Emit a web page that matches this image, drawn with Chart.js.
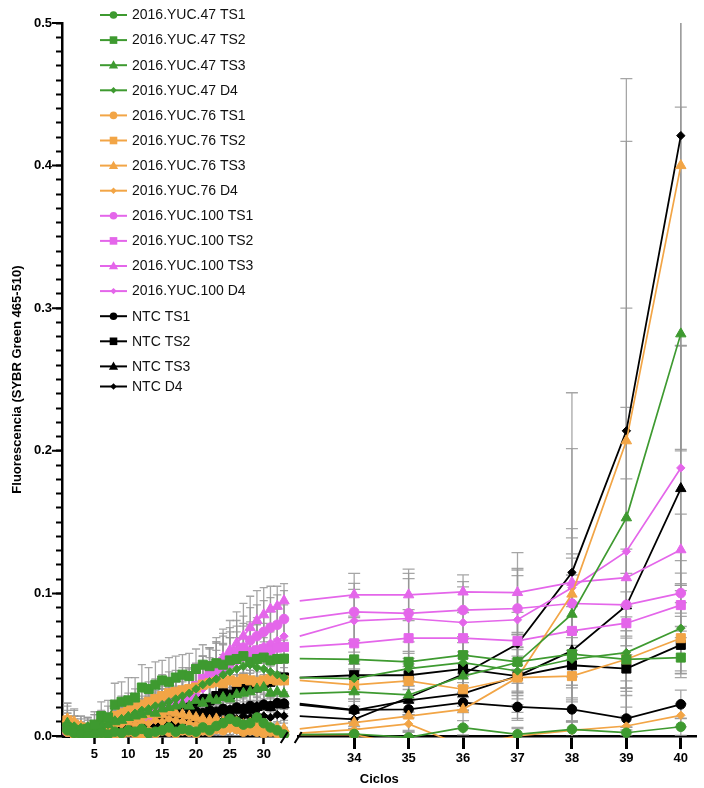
<!DOCTYPE html>
<html><head><meta charset="utf-8">
<script src="https://cdn.jsdelivr.net/npm/chart.js@4.4.0/dist/chart.umd.min.js"></script>
<style>html,body{margin:0;padding:0;background:#fff}#wrap{width:704px;height:788px;position:relative}</style>
</head><body><div id="wrap"><canvas id="c"></canvas></div>
<script>
// ---------- DATA ----------
const cycles = [1,2,3,4,5,6,7,8,9,10,11,12,13,14,15,16,17,18,19,20,21,22,23,24,25,26,27,28,29,30,31,32,33,34,35,36,37,38,39,40];
const breakCycle = 33;
const leftTicks = [5,10,15,20,25,30];
const rightTicks = [34,35,36,37,38,39,40];
const yMajorTicks = [0,0.1,0.2,0.3,0.4,0.5];

const yuc47TS1 = [0.004,0.002,0.001,0.0,0.001,0.002,0.001,0.003,0.002,0.004,0.003,0.005,0.002,0.003,0.004,0.006,0.003,0.005,0.004,0.003,0.006,0.004,0.007,0.009,0.012,0.010,0.008,0.009,0.013,0.009,0.006,0.004,0.001,0.0014,-0.001,0.0058,0.0012,0.0047,0.0023,0.0065];
const yuc47TS2 = [0.006,0.004,0.003,0.005,0.008,0.014,0.013,0.022,0.024,0.025,0.027,0.034,0.033,0.036,0.039,0.038,0.041,0.043,0.042,0.047,0.050,0.049,0.051,0.050,0.053,0.054,0.056,0.052,0.054,0.055,0.053,0.054,0.0543,0.0537,0.052,0.0567,0.052,0.0574,0.0537,0.055];
const yuc47TS3 = [0.009,0.005,0.002,0.003,0.004,0.006,0.008,0.010,0.011,0.013,0.014,0.015,0.017,0.016,0.019,0.020,0.021,0.022,0.021,0.025,0.023,0.026,0.025,0.027,0.026,0.029,0.030,0.031,0.033,0.034,0.030,0.031,0.0297,0.031,0.0288,0.042,0.0515,0.0854,0.153,0.282];
const yuc47D4  = [0.008,0.007,0.006,0.007,0.008,0.009,0.008,0.011,0.012,0.014,0.016,0.018,0.019,0.021,0.022,0.024,0.026,0.028,0.030,0.033,0.036,0.038,0.040,0.043,0.045,0.047,0.049,0.050,0.048,0.047,0.045,0.043,0.041,0.0403,0.0473,0.0515,0.0456,0.0538,0.0585,0.0756];
const yuc76TS1 = [0.003,0.001,0.0,0.001,0.002,0.0,0.001,0.002,0.001,0.003,0.002,0.001,0.003,0.002,0.004,0.003,0.002,0.004,0.003,0.002,0.004,0.003,0.005,0.004,0.006,0.005,0.003,0.004,0.003,0.002,0.003,0.002,0.001,0.001,-0.007,-0.009,-0.009,-0.008,-0.009,-0.008];
const yuc76TS2 = [0.011,0.008,0.006,0.005,0.007,0.009,0.011,0.014,0.016,0.018,0.020,0.022,0.024,0.026,0.028,0.030,0.031,0.032,0.033,0.034,0.036,0.037,0.038,0.037,0.039,0.038,0.040,0.039,0.038,0.039,0.040,0.039,0.039,0.0358,0.0386,0.0328,0.041,0.042,0.0538,0.0686];
const yuc76TS3 = [0.012,0.010,0.007,0.005,0.004,0.006,0.008,0.010,0.011,0.013,0.012,0.014,0.015,0.016,0.015,0.017,0.016,0.015,0.014,0.013,0.012,0.011,0.012,0.010,0.009,0.010,0.008,0.009,0.007,0.008,0.006,0.006,0.005,0.0094,0.014,0.0187,0.041,0.0995,0.207,0.400];
const yuc76D4  = [0.009,0.007,0.004,0.003,0.004,0.005,0.006,0.007,0.008,0.009,0.008,0.010,0.009,0.011,0.010,0.012,0.011,0.010,0.009,0.008,0.009,0.007,0.008,0.006,0.005,0.006,0.004,0.005,0.004,0.003,0.003,0.002,0.002,0.0045,0.0085,-0.007,0.0,0.004,0.007,0.0145];
const yuc100TS1 = [0.003,0.002,0.001,0.002,0.004,0.005,0.007,0.009,0.010,0.012,0.013,0.014,0.016,0.017,0.020,0.021,0.025,0.026,0.028,0.034,0.038,0.043,0.046,0.052,0.055,0.059,0.062,0.067,0.070,0.073,0.076,0.078,0.082,0.087,0.086,0.0883,0.0894,0.0929,0.092,0.1002];
const yuc100TS2 = [0.004,0.003,0.002,0.003,0.005,0.007,0.009,0.011,0.012,0.015,0.016,0.013,0.012,0.020,0.023,0.025,0.027,0.030,0.032,0.035,0.040,0.044,0.048,0.052,0.055,0.058,0.060,0.059,0.060,0.061,0.060,0.062,0.0625,0.065,0.0686,0.0686,0.0667,0.0737,0.0791,0.0918];
const yuc100TS3 = [0.005,0.003,0.002,0.003,0.004,0.006,0.008,0.010,0.011,0.012,0.013,0.015,0.016,0.018,0.020,0.022,0.024,0.026,0.029,0.033,0.038,0.044,0.050,0.055,0.060,0.065,0.070,0.076,0.081,0.085,0.089,0.091,0.0948,0.099,0.099,0.101,0.1006,0.1077,0.111,0.1306];
const yuc100D4  = [0.004,0.003,0.002,0.002,0.003,0.005,0.006,0.008,0.009,0.011,0.012,0.013,0.014,0.016,0.018,0.020,0.022,0.024,0.026,0.029,0.033,0.037,0.041,0.045,0.049,0.052,0.055,0.058,0.061,0.063,0.065,0.067,0.070,0.0808,0.0824,0.0796,0.0815,0.104,0.1294,0.188];
const ntcTS1 = [0.002,0.001,0.003,0.002,0.004,0.003,0.005,0.004,0.006,0.008,0.007,0.009,0.011,0.010,0.012,0.011,0.014,0.013,0.015,0.017,0.016,0.018,0.017,0.019,0.018,0.020,0.019,0.021,0.020,0.022,0.021,0.023,0.0227,0.0183,0.0187,0.0234,0.0204,0.0187,0.0122,0.0222];
const ntcTS2 = [0.003,0.002,0.004,0.003,0.005,0.006,0.006,0.008,0.010,0.011,0.012,0.014,0.015,0.017,0.016,0.019,0.020,0.022,0.021,0.024,0.026,0.025,0.028,0.030,0.029,0.032,0.033,0.035,0.034,0.037,0.038,0.040,0.041,0.0426,0.0426,0.047,0.042,0.0496,0.0473,0.0639];
const ntcTS3 = [0.001,0.002,0.001,0.003,0.002,0.004,0.003,0.005,0.004,0.006,0.007,0.006,0.009,0.008,0.010,0.011,0.010,0.012,0.013,0.012,0.015,0.014,0.016,0.017,0.016,0.018,0.019,0.018,0.020,0.021,0.020,0.022,0.0218,0.018,0.025,0.0297,0.042,0.0597,0.0913,0.1735];
const ntcD4  = [0.001,0.000,0.002,0.001,0.002,0.003,0.002,0.004,0.003,0.005,0.004,0.006,0.005,0.007,0.006,0.008,0.007,0.009,0.010,0.009,0.011,0.010,0.012,0.011,0.013,0.012,0.014,0.013,0.015,0.014,0.013,0.015,0.014,0.0117,0.027,0.0433,0.0645,0.1147,0.214,0.421];

// standard deviations (error bars)
const sdYuc47TS1 = [0.005,0.004,0.003,0.003,0.004,0.004,0.003,0.005,0.004,0.005,0.005,0.006,0.004,0.005,0.006,0.007,0.005,0.006,0.005,0.005,0.007,0.006,0.008,0.009,0.011,0.010,0.009,0.010,0.012,0.009,0.007,0.005,0.004,0.004,0.004,0.005,0.004,0.005,0.004,0.006];
const sdYuc47TS2 = [0.010,0.008,0.007,0.008,0.009,0.010,0.012,0.015,0.014,0.016,0.014,0.016,0.015,0.016,0.014,0.017,0.015,0.014,0.016,0.014,0.014,0.013,0.015,0.014,0.016,0.015,0.014,0.016,0.015,0.014,0.013,0.014,0.013,0.012,0.014,0.013,0.015,0.016,0.015,0.014];
const sdYuc47TS3 = [0.012,0.009,0.006,0.006,0.007,0.007,0.008,0.009,0.009,0.010,0.010,0.011,0.011,0.012,0.012,0.012,0.013,0.013,0.012,0.013,0.012,0.013,0.012,0.013,0.013,0.014,0.014,0.015,0.015,0.014,0.013,0.012,0.011,0.010,0.012,0.015,0.020,0.060,0.147,0.159];
const sdYuc47D4  = [0.008,0.007,0.006,0.006,0.007,0.007,0.007,0.008,0.008,0.009,0.009,0.010,0.010,0.011,0.011,0.012,0.012,0.012,0.013,0.013,0.013,0.014,0.014,0.014,0.015,0.015,0.015,0.016,0.015,0.015,0.014,0.013,0.012,0.010,0.012,0.014,0.015,0.020,0.025,0.030];
const sdYuc76TS1 = [0.006,0.004,0.003,0.003,0.004,0.003,0.003,0.004,0.003,0.004,0.004,0.003,0.004,0.004,0.005,0.004,0.004,0.005,0.004,0.004,0.005,0.004,0.005,0.005,0.006,0.005,0.004,0.005,0.004,0.004,0.004,0.004,0.003,0.004,0.005,0.005,0.005,0.005,0.005,0.005];
const sdYuc76TS2 = [0.012,0.010,0.008,0.007,0.008,0.009,0.010,0.011,0.012,0.012,0.013,0.013,0.014,0.014,0.015,0.015,0.015,0.016,0.015,0.016,0.016,0.015,0.016,0.015,0.016,0.015,0.016,0.015,0.014,0.015,0.014,0.013,0.012,0.010,0.012,0.012,0.015,0.018,0.020,0.025];
const sdYuc76TS3 = [0.011,0.009,0.007,0.006,0.005,0.006,0.007,0.008,0.008,0.009,0.009,0.010,0.010,0.011,0.010,0.011,0.011,0.010,0.010,0.009,0.009,0.009,0.009,0.008,0.008,0.008,0.007,0.008,0.007,0.007,0.007,0.007,0.006,0.008,0.010,0.012,0.030,0.102,0.210,0.200];
const sdYuc76D4  = [0.009,0.007,0.005,0.004,0.005,0.005,0.006,0.006,0.007,0.007,0.007,0.008,0.007,0.008,0.008,0.009,0.008,0.008,0.008,0.007,0.007,0.007,0.007,0.006,0.006,0.006,0.005,0.006,0.005,0.005,0.005,0.005,0.004,0.005,0.006,0.006,0.006,0.006,0.007,0.008];
const sdYuc100TS1 = [0.006,0.005,0.004,0.004,0.005,0.006,0.007,0.008,0.009,0.010,0.010,0.011,0.011,0.012,0.013,0.013,0.014,0.015,0.016,0.017,0.018,0.019,0.020,0.020,0.021,0.022,0.022,0.023,0.022,0.022,0.021,0.021,0.020,0.020,0.028,0.020,0.027,0.020,0.022,0.014];
const sdYuc100TS2 = [0.006,0.005,0.004,0.004,0.005,0.006,0.007,0.008,0.008,0.009,0.010,0.009,0.009,0.011,0.012,0.013,0.013,0.014,0.015,0.015,0.016,0.017,0.017,0.018,0.018,0.019,0.019,0.019,0.018,0.018,0.018,0.018,0.018,0.018,0.020,0.018,0.020,0.020,0.022,0.015];
const sdYuc100TS3 = [0.007,0.005,0.004,0.004,0.005,0.006,0.007,0.008,0.009,0.010,0.010,0.011,0.012,0.012,0.013,0.014,0.014,0.015,0.016,0.017,0.018,0.018,0.019,0.020,0.021,0.022,0.023,0.022,0.021,0.019,0.016,0.014,0.012,0.015,0.018,0.012,0.028,0.017,0.020,0.025];
const sdYuc100D4  = [0.005,0.004,0.004,0.004,0.004,0.005,0.006,0.007,0.008,0.009,0.009,0.010,0.010,0.011,0.012,0.012,0.013,0.014,0.015,0.016,0.017,0.018,0.019,0.020,0.020,0.021,0.022,0.022,0.022,0.022,0.022,0.022,0.022,0.022,0.028,0.025,0.036,0.035,0.101,0.086];
const sdNtcTS1 = [0.004,0.003,0.003,0.003,0.004,0.004,0.004,0.005,0.005,0.005,0.006,0.006,0.006,0.006,0.007,0.007,0.007,0.007,0.007,0.008,0.008,0.008,0.008,0.008,0.008,0.008,0.008,0.008,0.008,0.008,0.008,0.007,0.007,0.006,0.006,0.007,0.008,0.008,0.008,0.010];
const sdNtcTS2 = [0.005,0.004,0.004,0.004,0.005,0.005,0.006,0.006,0.007,0.007,0.008,0.008,0.008,0.009,0.009,0.009,0.010,0.010,0.010,0.010,0.011,0.011,0.011,0.011,0.011,0.011,0.011,0.011,0.011,0.011,0.011,0.011,0.010,0.010,0.010,0.012,0.012,0.014,0.016,0.020];
const sdNtcTS3 = [0.003,0.003,0.003,0.003,0.004,0.004,0.004,0.004,0.005,0.005,0.005,0.005,0.006,0.006,0.006,0.006,0.006,0.007,0.007,0.007,0.007,0.007,0.007,0.007,0.007,0.007,0.007,0.007,0.007,0.008,0.008,0.008,0.008,0.008,0.010,0.012,0.020,0.068,0.089,0.100];
const sdNtcD4  = [0.003,0.003,0.003,0.003,0.003,0.003,0.003,0.004,0.004,0.004,0.004,0.004,0.004,0.005,0.005,0.005,0.005,0.005,0.005,0.005,0.005,0.005,0.005,0.005,0.005,0.005,0.005,0.005,0.005,0.005,0.005,0.005,0.005,0.005,0.012,0.025,0.048,0.126,0.247,0.220];

// ---------- STYLE ----------
const GREEN = '#3e9a30', ORANGE = '#f2a546', MAGENTA = '#e466ea', BLACK = '#000000';
const FONT = "'Liberation Sans', Arial, Helvetica, sans-serif";
Chart.defaults.font.family = FONT;
Chart.defaults.color = '#000';

const series = [
  {label:'2016.YUC.47 TS1', v:yuc47TS1, sd:sdYuc47TS1, color:GREEN, shape:'circle'},
  {label:'2016.YUC.47 TS2', v:yuc47TS2, sd:sdYuc47TS2, color:GREEN, shape:'rect'},
  {label:'2016.YUC.47 TS3', v:yuc47TS3, sd:sdYuc47TS3, color:GREEN, shape:'triangle'},
  {label:'2016.YUC.47 D4',  v:yuc47D4,  sd:sdYuc47D4,  color:GREEN, shape:'rectRot'},
  {label:'2016.YUC.76 TS1', v:yuc76TS1, sd:sdYuc76TS1, color:ORANGE, shape:'circle'},
  {label:'2016.YUC.76 TS2', v:yuc76TS2, sd:sdYuc76TS2, color:ORANGE, shape:'rect'},
  {label:'2016.YUC.76 TS3', v:yuc76TS3, sd:sdYuc76TS3, color:ORANGE, shape:'triangle'},
  {label:'2016.YUC.76 D4',  v:yuc76D4,  sd:sdYuc76D4,  color:ORANGE, shape:'rectRot'},
  {label:'2016.YUC.100 TS1', v:yuc100TS1, sd:sdYuc100TS1, color:MAGENTA, shape:'circle'},
  {label:'2016.YUC.100 TS2', v:yuc100TS2, sd:sdYuc100TS2, color:MAGENTA, shape:'rect'},
  {label:'2016.YUC.100 TS3', v:yuc100TS3, sd:sdYuc100TS3, color:MAGENTA, shape:'triangle'},
  {label:'2016.YUC.100 D4',  v:yuc100D4,  sd:sdYuc100D4,  color:MAGENTA, shape:'rectRot'},
  {label:'NTC TS1', v:ntcTS1, sd:sdNtcTS1, color:BLACK, shape:'circle'},
  {label:'NTC TS2', v:ntcTS2, sd:sdNtcTS2, color:BLACK, shape:'rect'},
  {label:'NTC TS3', v:ntcTS3, sd:sdNtcTS3, color:BLACK, shape:'triangle'},
  {label:'NTC D4',  v:ntcD4,  sd:sdNtcD4,  color:BLACK, shape:'rectRot'}
];
const RADIUS = {circle:4.8, rect:6.4, triangle:6.0, rectRot:4.2};

const datasets = [];
series.forEach(s => {
  const pts = cycles.map((c, i) => ({x: c, y: s.v[i], e: s.sd[i]}));
  const common = {
    label: s.label, borderColor: s.color, backgroundColor: s.color,
    pointBackgroundColor: s.color, pointBorderColor: s.color, pointBorderWidth: 1,
    pointStyle: s.shape, borderWidth: s.color === BLACK ? 1.8 : 1.7, tension: 0,
    clip: {left: false, right: false, top: 0, bottom: 2}
  };
  datasets.push(Object.assign({}, common, {
    data: pts.filter(p => p.x <= breakCycle), xAxisID: 'x', pointRadius: RADIUS[s.shape]
  }));
  datasets.push(Object.assign({}, common, {
    label: s.label + ' ', data: pts.filter(p => p.x >= breakCycle), xAxisID: 'x2', segRight: true,
    pointRadius: ctx => ctx.dataIndex === 0 ? 0 : RADIUS[s.shape]
  }));
});

// ---------- PLUGINS ----------
const LEFT_FRAC = 0.3541, RIGHT_FRAC = 0.3729;
const brokenAxis = {
  id: 'brokenAxis',
  afterLayout(chart) {
    const ca = chart.chartArea, xl = chart.scales.x, xr = chart.scales.x2;
    const w = ca.right - ca.left;
    xl.left = ca.left; xl.right = ca.left + w * LEFT_FRAC; xl.width = xl.right - xl.left;
    xr.left = ca.left + w * RIGHT_FRAC; xr.right = ca.right; xr.width = xr.right - xr.left;
    xr.top = xl.top; xr.bottom = xl.bottom; xr.height = xl.height;
    xl.configure(); xr.configure();
  },
  afterDraw(chart) {
    const ctx = chart.ctx, xl = chart.scales.x, xr = chart.scales.x2, ya = chart.scales.y, y = chart.chartArea.bottom;
    ctx.save(); ctx.strokeStyle = '#000'; ctx.lineWidth = 2;
    ctx.beginPath();
    ctx.moveTo(xl.right - 6, y + 7); ctx.lineTo(xl.right + 1, y - 4);
    ctx.moveTo(xr.left - 4, y + 7); ctx.lineTo(xr.left + 3, y - 4);
    // longer marks at the labelled y ticks
    ctx.lineWidth = 2;
    yMajorTicks.forEach(t => {
      const py = ya.getPixelForValue(t);
      ctx.moveTo(ya.right - 10, py); ctx.lineTo(ya.right, py);
    });
    ctx.stroke(); ctx.restore();
  }
};

const errorBars = {
  id: 'errorBars',
  beforeDatasetsDraw(chart) {
    const ctx = chart.ctx, ya = chart.scales.y, ca = chart.chartArea;
    ctx.save();
    ctx.beginPath(); ctx.rect(ca.left, ca.top, ca.right - ca.left, ca.bottom - ca.top); ctx.clip();
    ctx.strokeStyle = 'rgba(150,150,150,0.85)'; ctx.lineWidth = 1.3;
    chart.data.datasets.forEach(ds => {
      const xs = chart.scales[ds.xAxisID];
      const step = Math.abs(xs.getPixelForValue(cycles[1]) - xs.getPixelForValue(cycles[0]));
      const cap = Math.min(6, step * 0.6);
      ds.data.forEach((p, i) => {
        if (ds.segRight && i === 0) return;
        const x = xs.getPixelForValue(p.x);
        const yt = ya.getPixelForValue(p.y + p.e), yb = ya.getPixelForValue(p.y - p.e);
        ctx.beginPath();
        ctx.moveTo(x, yb); ctx.lineTo(x, yt);
        ctx.moveTo(x - cap, yt); ctx.lineTo(x + cap, yt);
        ctx.moveTo(x - cap, yb); ctx.lineTo(x + cap, yb);
        ctx.stroke();
      });
    });
    ctx.restore();
  }
};

function marker(ctx, shape, x, y, r) {
  ctx.beginPath();
  if (shape === 'circle') ctx.arc(x, y, r, 0, Math.PI * 2);
  else if (shape === 'rect') ctx.rect(x - r, y - r, 2 * r, 2 * r);
  else if (shape === 'triangle') { ctx.moveTo(x, y - r * 1.1); ctx.lineTo(x + r * 1.05, y + r * 0.75); ctx.lineTo(x - r * 1.05, y + r * 0.75); ctx.closePath(); }
  else { ctx.moveTo(x, y - r); ctx.lineTo(x + r, y); ctx.lineTo(x, y + r); ctx.lineTo(x - r, y); ctx.closePath(); }
  ctx.fill();
}

const legendPlugin = {
  id: 'sideLegend',
  afterDraw(chart) {
    const ctx = chart.ctx;
    ctx.save();
    ctx.font = '14px ' + FONT; ctx.textBaseline = 'middle'; ctx.textAlign = 'left';
    const LR = {circle: 3.8, rect: 3.8, triangle: 4.4, rectRot: 3.2};
    series.forEach((s, i) => {
      let y = 15 + i * 25.1;
      if (i === series.length - 1) y -= 5;
      ctx.strokeStyle = s.color; ctx.fillStyle = s.color; ctx.lineWidth = 2;
      ctx.beginPath(); ctx.moveTo(100, y); ctx.lineTo(127, y); ctx.stroke();
      marker(ctx, s.shape, 113.5, y, LR[s.shape]);
      ctx.fillStyle = '#111';
      ctx.fillText(s.label, 132, y + 0.5);
    });
    ctx.restore();
  }
};

const zeroPad = s => { s.paddingLeft = 0; s.paddingRight = 0; s.paddingTop = 0; s.paddingBottom = 0; };

new Chart(document.getElementById('c'), {
  type: 'line',
  data: {datasets},
  options: {
    responsive: true, maintainAspectRatio: false, animation: false,
    layout: {padding: {top: 23, right: 1, left: 0, bottom: 0}},
    plugins: {
      legend: {display: false}, tooltip: {enabled: false},
      title: {display: true, text: 'Ciclos', position: 'bottom', fullSize: false,
              font: {size: 13, weight: 'bold'}, padding: {top: 0, bottom: 1}, color: '#000'}
    },
    scales: {
      x: {
        type: 'linear', position: 'bottom', min: 0.2, max: 33.4,
        afterBuildTicks: sc => { sc.ticks = leftTicks.map(v => ({value: v})); },
        afterFit: sc => { sc.height = 35.4; zeroPad(sc); },
        ticks: {autoSkip: false, maxRotation: 0, padding: 3, font: {size: 13, weight: 'bold'}, color: '#000'},
        grid: {drawOnChartArea: false, tickLength: 8, tickWidth: 2.5, tickColor: '#000'},
        border: {color: '#000', width: 2.5}
      },
      x2: {
        type: 'linear', position: 'bottom', min: 32.98, max: 40.29,
        afterBuildTicks: sc => { sc.ticks = rightTicks.map(v => ({value: v})); },
        afterFit: sc => { sc.height = 0; zeroPad(sc); },
        ticks: {autoSkip: false, maxRotation: 0, padding: 2, font: {size: 13, weight: 'bold'}, color: '#000'},
        grid: {drawOnChartArea: false, tickLength: 13, tickWidth: 3, tickColor: '#000'},
        border: {color: '#000', width: 2.5}
      },
      y: {
        type: 'linear', position: 'left', min: 0, max: 0.5,
        afterFit: sc => { sc.width = 62; zeroPad(sc); },
        ticks: {
          stepSize: 0.01, autoSkip: false, padding: 4, font: {size: 13, weight: 'bold'}, color: '#000',
          callback: v => { const m = yMajorTicks.find(t => Math.abs(t - v) < 1e-6); return m === undefined ? '' : m.toFixed(1); }
        },
        grid: {drawOnChartArea: false, tickLength: 6, tickWidth: 2, tickColor: '#000'},
        border: {color: '#000', width: 2.5},
        title: {display: true, text: 'Fluorescencia (SYBR Green 465-510)', font: {size: 13, weight: 'bold'}, padding: {top: 10, bottom: 0}, color: '#000'}
      }
    }
  },
  plugins: [brokenAxis, errorBars, legendPlugin]
});
</script>
</body></html>
